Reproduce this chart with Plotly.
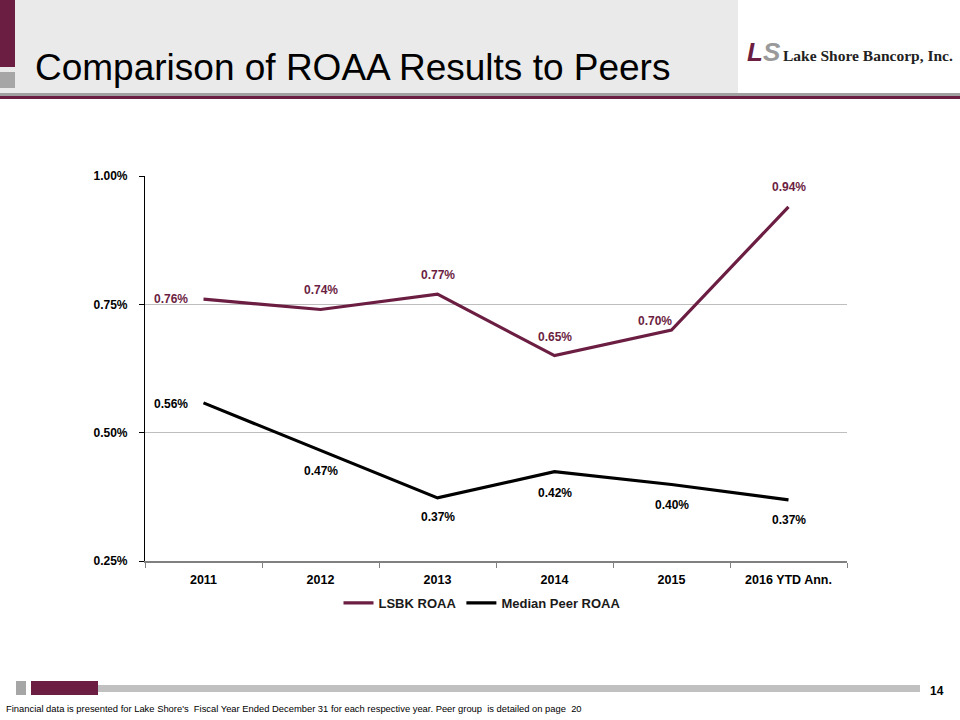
import plotly.graph_objects as go

categories = ["2011", "2012", "2013", "2014", "2015", "2016 YTD Ann."]
lsbk_roaa = [0.76, 0.74, 0.77, 0.65, 0.70, 0.94]
peer_roaa = [0.558, 0.466, 0.373, 0.424, 0.399, 0.369]
y_ticks = [0.25, 0.50, 0.75, 1.00]

MAROON = "#6B1E42"
FONT = "Liberation Sans, Arial, sans-serif"

W, H = 960, 720
L, R, T, B = 145, 847, 176, 561

def px(x):
    return (x - L) / (R - L)

def py(y):
    return (B - y) / (B - T)

fig = go.Figure()
fig.add_trace(go.Scatter(x=categories, y=lsbk_roaa, mode="lines", name="<b>LSBK ROAA</b>",
                         line=dict(color=MAROON, width=3.2)))
fig.add_trace(go.Scatter(x=categories, y=peer_roaa, mode="lines", name="<b>Median Peer ROAA</b>",
                         line=dict(color="black", width=3.2)))

annotations = []
lsbk_shift = [(-33, 0), (0, 19), (0, 19), (0, 19), (-17, 9), (0, 20)]
peer_shift = [(-33, -1), (0, -21), (0, -19), (0, -21), (0, -20), (0, -20)]
for i, (v, (dx, dy)) in enumerate(zip(lsbk_roaa, lsbk_shift)):
    annotations.append(dict(x=i, y=v, xref="x", yref="y", text=f"<b>{v:.2f}%</b>",
                            showarrow=False, xshift=dx, yshift=dy,
                            font=dict(family=FONT, size=12, color=MAROON)))
for i, (v, (dx, dy)) in enumerate(zip(peer_roaa, peer_shift)):
    annotations.append(dict(x=i, y=v, xref="x", yref="y", text=f"<b>{v:.2f}%</b>",
                            showarrow=False, xshift=dx, yshift=dy,
                            font=dict(family=FONT, size=12, color="black")))

# Title and logo
annotations.append(dict(x=px(33), y=py(68), xref="paper", yref="paper", xanchor="left", yanchor="middle",
                        text="Comparison of ROAA Results to Peers", showarrow=False,
                        font=dict(family=FONT, size=37, color="black")))
annotations.append(dict(x=px(745), y=py(52), xref="paper", yref="paper", xanchor="left", yanchor="middle",
                        text=f"<b><i><span style='color:{MAROON}'>L</span><span style='color:#9A9A9A'>S</span></i></b>",
                        showarrow=False,
                        font=dict(family="Liberation Sans, Arial", size=26, color=MAROON)))
annotations.append(dict(x=px(781), y=py(56), xref="paper", yref="paper", xanchor="left", yanchor="middle",
                        text="<b>Lake Shore Bancorp, Inc.</b>", showarrow=False,
                        font=dict(family="Liberation Serif, Times New Roman, serif", size=15.5, color="#222222")))
# Footer
annotations.append(dict(x=px(937), y=py(691), xref="paper", yref="paper", xanchor="center", yanchor="middle",
                        text="<b>14</b>", showarrow=False,
                        font=dict(family=FONT, size=12, color="black")))
annotations.append(dict(x=px(4), y=py(708), xref="paper", yref="paper", xanchor="left", yanchor="middle",
                        text="Financial data is presented for Lake Shore's  Fiscal Year Ended December 31 for each respective year. Peer group  is detailed on page  20",
                        showarrow=False, font=dict(family=FONT, size=9.4, color="black")))

def rect(x0, y0, x1, y1, color):
    return dict(type="rect", xref="paper", yref="paper", x0=px(x0), x1=px(x1), y0=py(y1), y1=py(y0),
                fillcolor=color, line=dict(width=0), layer="below")

shapes = [
    rect(0, 0, 738, 93, "#EAEAEA"),
    rect(0, 0, 15, 67, MAROON),
    rect(0, 72, 15, 88, "#A6A6A6"),
    rect(0, 93, 960, 96, "#A0A0A0"),
    rect(0, 96, 960, 99, MAROON),
    rect(16, 681, 26, 695, "#A6A6A6"),
    rect(98, 685, 920, 692, "#C0C0C0"),
    rect(31, 681, 98, 695, MAROON),
]

fig.update_layout(
    width=W, height=H,
    margin=dict(l=L, r=W - R, t=T, b=H - B, pad=0),
    paper_bgcolor="white", plot_bgcolor="white",
    font=dict(family=FONT, color="black"),
    showlegend=True,
    legend=dict(orientation="h", x=px(482), y=py(603), xanchor="center", yanchor="middle",
                font=dict(family=FONT, size=13, color="#1a1a1a"), itemwidth=30,
                bgcolor="rgba(0,0,0,0)"),
    annotations=annotations,
    shapes=shapes,
    xaxis=dict(type="category", showgrid=False, showline=True, linecolor="#808080", linewidth=1.5,
               ticks="outside", ticklen=5, tickcolor="#808080", tickson="boundaries",
               tickfont=dict(family=FONT, size=12.5, color="black"), range=[-0.5, 5.5],
               tickprefix="<b>", ticksuffix="</b>", ticklabelstandoff=6),
    yaxis=dict(range=[0.25, 1.0], tickvals=y_ticks, ticktext=[f"<b>{v:.2f}%</b>" for v in y_ticks],
               showgrid=True, gridcolor="#BEBEBE", gridwidth=1, showline=True, linecolor="black",
               linewidth=1.2, ticks="outside", ticklen=5, tickcolor="black", zeroline=False,
               tickfont=dict(family=FONT, size=12, color="black"), ticklabelstandoff=9),
)

fig.write_html("out.html")
